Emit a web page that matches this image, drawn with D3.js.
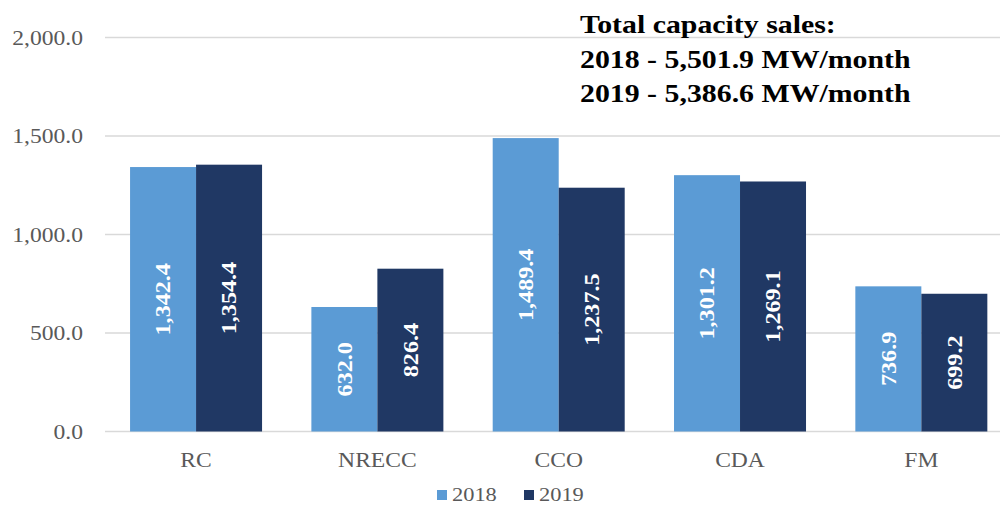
<!DOCTYPE html>
<html><head><meta charset="utf-8">
<script src="https://cdn.jsdelivr.net/npm/d3@7"></script>
<style>body{margin:0;background:#fff}svg{display:block}</style>
</head><body>
<svg id="c" width="1000" height="506"></svg>
<script>
const categories = ["RC","NRECC","CCO","CDA","FM"];
const seriesNames = ["2018","2019"];
const values2018 = [1342.4, 632.0, 1489.4, 1301.2, 736.9];
const values2019 = [1354.4, 826.4, 1237.5, 1269.1, 699.2];
const yTicks = [0, 500, 1000, 1500, 2000];
const titleLines = ["Total capacity sales:", "2018 - 5,501.9 MW/month", "2019 - 5,386.6 MW/month"];
const colors = ["#5b9bd5", "#203864"];

const svg = d3.select("#c");
const SX = 1.15;
const font = "'Liberation Serif','Times New Roman',serif";

const x = d3.scaleBand().domain(categories).range([105.4, 1012]).paddingInner(0.272).paddingOuter(0.136);
const xs = d3.scaleBand().domain(seriesNames).range([0, x.bandwidth()]);
const y = d3.scaleLinear().domain([0, 2000]).range([431.5, 37.5]);

// gridlines
svg.append("g").selectAll("line").data(yTicks).join("line")
  .attr("x1", 105).attr("x2", 1000)
  .attr("y1", d => y(d)).attr("y2", d => y(d))
  .attr("stroke", "#d9d9d9").attr("stroke-width", 1.5);

// y tick labels
const fmt = d3.format(",.1f");
svg.append("g").selectAll("text").data(yTicks).join("text")
  .attr("transform", d => `translate(83,${y(d)}) scale(${SX},1)`)
  .attr("text-anchor", "end").attr("dy", "0.35em")
  .attr("font-family", font).attr("font-size", 20.5).attr("fill", "#595959")
  .text(d => fmt(d));

const data = categories.map((c, i) => ({cat: c, vals: [values2018[i], values2019[i]]}));
const groups = svg.append("g").selectAll("g").data(data).join("g")
  .attr("transform", d => `translate(${x(d.cat)},0)`);

groups.selectAll("rect").data(d => d.vals.map((v, j) => ({v, s: seriesNames[j], j}))).join("rect")
  .attr("x", d => xs(d.s)).attr("width", xs.bandwidth())
  .attr("y", d => y(d.v)).attr("height", d => y(0) - y(d.v))
  .attr("fill", d => colors[d.j]);

groups.selectAll("text").data(d => d.vals.map((v, j) => ({v, s: seriesNames[j], j}))).join("text")
  .attr("transform", d => `translate(${xs(d.s) + xs.bandwidth()/2},${(y(d.v) + y(0))/2}) rotate(-90) scale(${SX},1)`)
  .attr("text-anchor", "middle").attr("dy", "0.35em")
  .attr("font-family", font).attr("font-size", 21).attr("font-weight", "bold").attr("fill", "#fff")
  .text(d => fmt(d.v));

// category labels
svg.append("g").selectAll("text").data(categories).join("text")
  .attr("transform", d => `translate(${x(d) + x.bandwidth()/2},467) scale(${SX},1)`)
  .attr("text-anchor", "middle")
  .attr("font-family", font).attr("font-size", 20.5).attr("fill", "#595959")
  .text(d => d);

// legend
const leg = svg.append("g");
const legX = [437, 524];
seriesNames.forEach((s, i) => {
  leg.append("rect").attr("x", legX[i]).attr("y", 490).attr("width", 10).attr("height", 10).attr("fill", colors[i]);
  leg.append("text").attr("transform", `translate(${legX[i] + 15},501) scale(${SX},1)`)
    .attr("font-family", font).attr("font-size", 19.5).attr("fill", "#595959").text(s);
});

// title
const tb = [33, 68, 102];
svg.append("g").selectAll("text").data(titleLines).join("text")
  .attr("transform", (d, i) => `translate(580,${tb[i]}) scale(1.17,1)`)
  .attr("font-family", font).attr("font-size", 25.5).attr("font-weight", "bold").attr("fill", "#000")
  .text(d => d);
</script>
</body></html>
